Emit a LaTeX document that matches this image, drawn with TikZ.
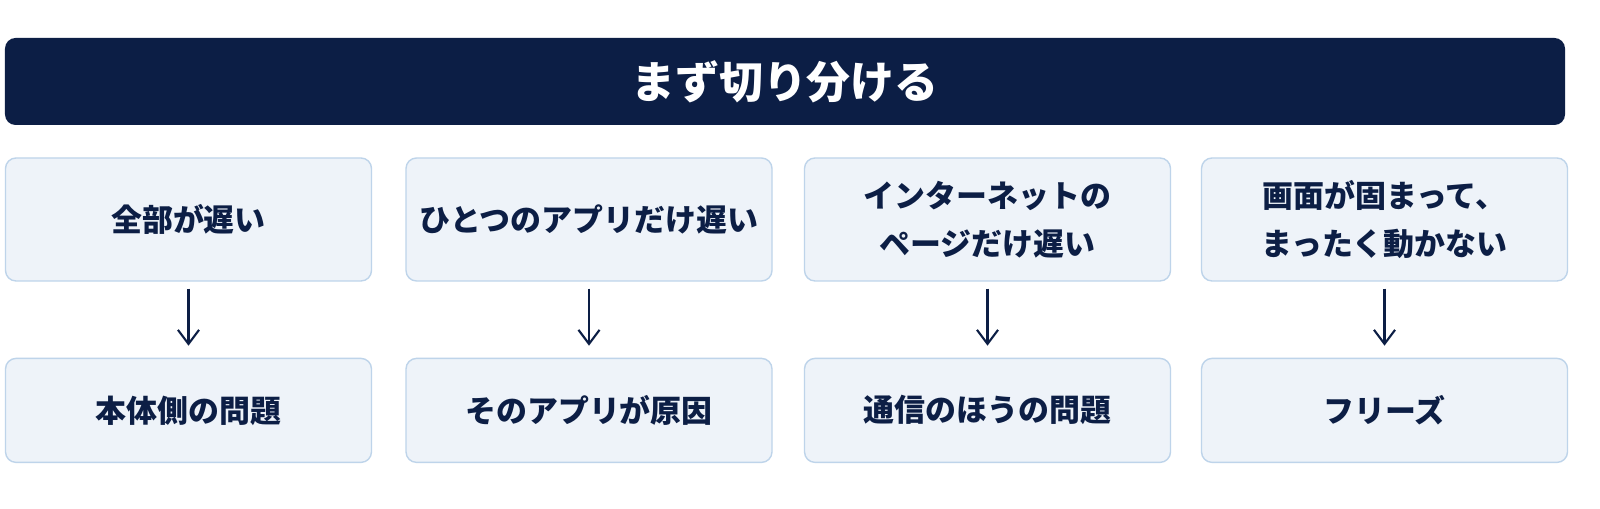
\documentclass[tikz,border=0pt]{standalone}
\usepackage{fontspec}
\setmainfont{Noto Sans CJK JP}
\usetikzlibrary{positioning,arrows.meta}
\definecolor{navy}{HTML}{0C1E45}
\definecolor{boxfill}{HTML}{EEF3F9}
\definecolor{boxline}{HTML}{BED4EA}
\begin{document}
\begin{tikzpicture}[
            header/.style={shape=rectangle, rounded corners=3pt, fill=navy, text=white,
              minimum width=15.6cm, minimum height=0.87cm, font=\fontsize{12.5}{15}\selectfont\bfseries},
            case/.style={shape=rectangle, rounded corners=3pt, draw=boxline, fill=boxfill, text=navy,
              minimum width=3.66cm, minimum height=1.23cm, align=center,
              font=\fontsize{8.8}{13.5}\selectfont\bfseries},
            cause/.style={case, minimum height=1.04cm},
            leadsto/.style={draw=navy, semithick, -{Straight Barb[length=4pt,width=6pt]}}]
        \useasboundingbox[fill=white] (0,0) rectangle (16,5.09);
        \node[header] (title) at (7.85,4.275) {まず切り分ける};

        \foreach \x/\i/\q/\a in {1.885/1/全部が遅い/本体側の問題,
                                5.89/2/ひとつのアプリだけ遅い/そのアプリが原因,
                                9.875/3/{インターネットの\\ページだけ遅い}/通信のほうの問題,
                                13.845/4/{画面が固まって、\\まったく動かない}/フリーズ} {
          \node[case] (case\i) at (\x,2.895) {\q};
          \node[cause, below=0.76cm of case\i] (cause\i) {\a};
          \draw[leadsto] ([yshift=-0.07cm]case\i.south) -- ([yshift=0.12cm]cause\i.north);
        }
\end{tikzpicture}
\end{document}
